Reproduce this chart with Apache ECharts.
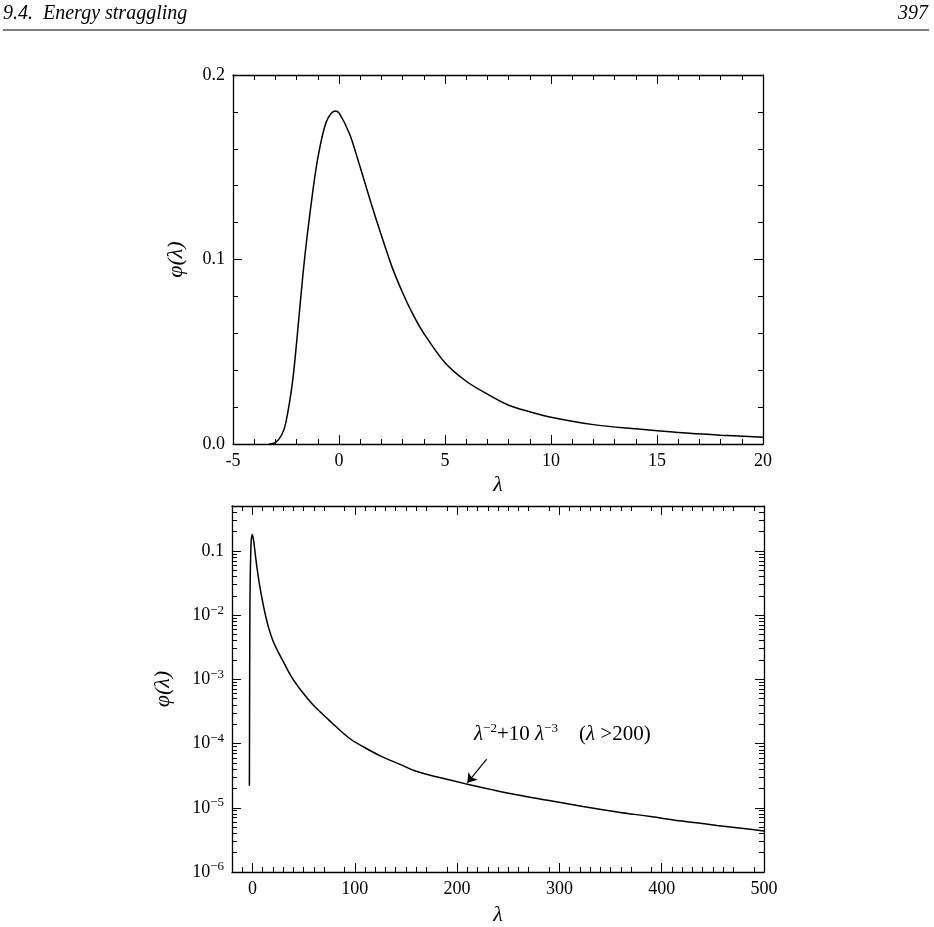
<!DOCTYPE html>
<html>
<head>
<meta charset="utf-8">
<script src="https://cdn.jsdelivr.net/npm/echarts@6/dist/echarts.min.js"></script>
<style>html,body{margin:0;padding:0;background:#fff}#chart{width:934px;height:927px}</style>
</head>
<body>
<div id="chart"></div>
<script>
// Landau distribution, linear scale
const linLambda = [-3.3, -3, -2.7, -2.5, -2.2, -2, -1.7, -1.5, -1.2, -1, -0.7, -0.5, -0.2, 0, 0.5, 1, 1.5, 2, 2.5, 3, 3.5, 4, 5, 6, 7, 8, 9, 10, 12, 14, 16, 18, 20];
const linPhi = [0, 0.0008, 0.005, 0.012, 0.033, 0.055, 0.092, 0.113, 0.140, 0.155, 0.171, 0.177, 0.1805, 0.1795, 0.168, 0.150, 0.131, 0.113, 0.096, 0.082, 0.070, 0.060, 0.044, 0.034, 0.027, 0.021, 0.0175, 0.0145, 0.0105, 0.0082, 0.0062, 0.0048, 0.0037];

// same curve, log scale, out to 500
const logLambda = [-3, -2.5, -2, -1.5, -1, -0.2, 1, 2, 3, 5, 7, 10, 13, 16, 20, 25, 30, 38, 46, 55, 62, 75, 95, 110, 127, 145, 160, 185, 209, 235, 258, 290, 323, 355, 389, 420, 454, 480, 500];
const logPhi = [2.2e-5, 0.012, 0.055, 0.113, 0.155, 0.1805, 0.150, 0.113, 0.082, 0.047, 0.029, 0.016, 0.0095, 0.0062, 0.0040, 0.0027, 0.0019, 0.0011, 7.2e-4, 4.8e-4, 3.6e-4, 2.3e-4, 1.2e-4, 8.6e-5, 6.2e-5, 4.7e-5, 3.7e-5, 2.9e-5, 2.35e-5, 1.9e-5, 1.6e-5, 1.3e-5, 1.05e-5, 8.7e-6, 7.3e-6, 6.2e-6, 5.3e-6, 4.75e-6, 4.35e-6];

const logTickLabels = { '-1': '0.1', '-2': '10{s|−2}', '-3': '10{s|−3}', '-4': '10{s|−4}', '-5': '10{s|−5}', '-6': '10{s|−6}' };

const font = 'Liberation Serif';
const chart = echarts.init(document.getElementById('chart'));

const axisBase = (show) => ({
  axisLine: { show: true, onZero: false, lineStyle: { color: '#000', width: 1.3 } },
  axisTick: { show: true, inside: true, length: 9, lineStyle: { color: '#000', width: 1 } },
  minorTick: { show: true, length: 5, lineStyle: { color: '#000', width: 1 } },
  splitLine: { show: false },
  axisLabel: { show: show, color: '#000', fontFamily: font, fontSize: 18, margin: 8 }
});
const nameStyle = { fontFamily: font, fontSize: 22, fontStyle: 'italic', color: '#000' };
const lamTicks = [0, 100, 200, 300, 400, 500];

chart.setOption({
  animation: false,
  grid: [
    { left: 233, top: 75, width: 530, height: 369 },
    { left: 232, top: 506, width: 532, height: 369 }
  ],
  xAxis: [
    Object.assign(axisBase(true), { type: 'value', gridIndex: 0, min: -5, max: 20, interval: 5,
      minorTick: { show: true, splitNumber: 5, length: 5, lineStyle: { color: '#000' } },
      name: 'λ', nameLocation: 'middle', nameGap: 30, nameTextStyle: nameStyle }),
    Object.assign(axisBase(false), { type: 'value', gridIndex: 0, position: 'top', min: -5, max: 20, interval: 5,
      minorTick: { show: true, splitNumber: 5, length: 5, lineStyle: { color: '#000' } } }),
    Object.assign(axisBase(true), { type: 'value', gridIndex: 1, min: -20, max: 500, interval: 100,
      axisLabel: { color: '#000', fontFamily: font, fontSize: 18, margin: 8, customValues: lamTicks },
      axisTick: { inside: true, length: 9, customValues: lamTicks, lineStyle: { color: '#000' } },
      minorTick: { show: true, splitNumber: 10, length: 5, lineStyle: { color: '#000' } },
      name: 'λ', nameLocation: 'middle', nameGap: 32, nameTextStyle: nameStyle }),
    Object.assign(axisBase(false), { type: 'value', gridIndex: 1, position: 'top', min: -20, max: 500, interval: 100,
      axisTick: { inside: true, length: 9, customValues: lamTicks, lineStyle: { color: '#000' } },
      minorTick: { show: true, splitNumber: 10, length: 5, lineStyle: { color: '#000' } } })
  ],
  yAxis: [
    Object.assign(axisBase(true), { type: 'value', gridIndex: 0, min: 0, max: 0.2, interval: 0.1,
      minorTick: { show: true, splitNumber: 5, length: 5, lineStyle: { color: '#000' } },
      axisLabel: { color: '#000', fontFamily: font, fontSize: 18, margin: 8, formatter: v => v.toFixed(1) },
      name: 'φ(λ)', nameLocation: 'middle', nameGap: 46, nameTextStyle: nameStyle }),
    Object.assign(axisBase(false), { type: 'value', gridIndex: 0, position: 'right', min: 0, max: 0.2, interval: 0.1,
      minorTick: { show: true, splitNumber: 5, length: 5, lineStyle: { color: '#000' } } }),
    Object.assign(axisBase(true), { type: 'log', logBase: 10, gridIndex: 1, min: 1e-6, max: 0.5,
      minorTick: { show: true, splitNumber: 9, length: 5, lineStyle: { color: '#000' } },
      axisLabel: { color: '#000', fontFamily: font, fontSize: 18, margin: 8,
        formatter: v => logTickLabels[String(Math.round(Math.log10(v)))] || '',
        rich: { s: { fontFamily: font, fontSize: 13, verticalAlign: 'top', padding: [0, 0, 10, 0], color: '#000' } } },
      name: 'φ(λ)', nameLocation: 'middle', nameGap: 58, nameTextStyle: nameStyle }),
    Object.assign(axisBase(false), { type: 'log', logBase: 10, gridIndex: 1, position: 'right', min: 1e-6, max: 0.5,
      minorTick: { show: true, splitNumber: 9, length: 5, lineStyle: { color: '#000' } } })
  ],
  series: [
    { type: 'line', xAxisIndex: 0, yAxisIndex: 0, smooth: 0.3, showSymbol: false,
      lineStyle: { color: '#000', width: 1.5 }, data: linLambda.map((x, i) => [x, linPhi[i]]) },
    { type: 'line', xAxisIndex: 2, yAxisIndex: 2, smooth: 0.4, showSymbol: false,
      lineStyle: { color: '#000', width: 1.5 }, data: logLambda.map((x, i) => [x, logPhi[i]]),
      markLine: { silent: true, symbol: ['none', 'arrow'], symbolSize: 9, label: { show: false },
        lineStyle: { color: '#000', width: 1.2, type: 'solid' },
        data: [[{ coord: [229, 5.7e-5] }, { coord: [210, 2.45e-5] }]] } }
  ],
  graphic: [
    { type: 'text', left: 3, top: 4, style: { text: '9.4.  Energy straggling', fontFamily: font, fontStyle: 'italic', fontSize: 20, fill: '#000' } },
    { type: 'text', right: 6, top: 4, style: { text: '397', fontFamily: font, fontStyle: 'italic', fontSize: 20, fill: '#000' } },
    { type: 'line', shape: { x1: 3, y1: 30, x2: 929, y2: 30 }, style: { stroke: '#000', lineWidth: 1 } },
    { type: 'text', left: 474, top: 722, style: {
      text: '{i|λ}{s|−2}+10 {i|λ}{s|−3}    ({i|λ} >200)',
      rich: {
        i: { fontFamily: font, fontStyle: 'italic', fontSize: 21, fill: '#000' },
        s: { fontFamily: font, fontSize: 13, verticalAlign: 'top', padding: [0, 0, 12, 0], fill: '#000' }
      },
      fontFamily: font, fontSize: 21, fill: '#000' } }
  ]
});
</script>
</body>
</html>
